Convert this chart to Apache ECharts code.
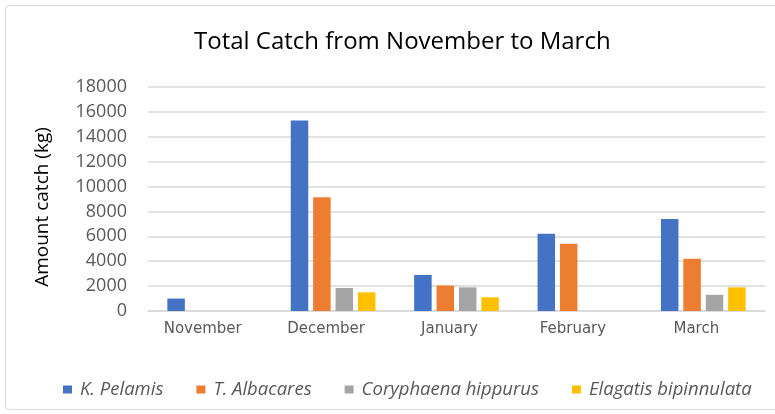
<!DOCTYPE html>
<html>
<head>
<meta charset="utf-8">
<script src="https://cdn.jsdelivr.net/npm/echarts@6/dist/echarts.min.js"></script>
<style>
  html, body { margin: 0; padding: 0; background: #fff; }
  #chart { width: 775px; height: 414px; }
</style>
</head>
<body>
<div id="chart"></div>
<script>
var months = ['November', 'December', 'January', 'February', 'March'];
var seriesNames = ['K. Pelamis', 'T. Albacares', 'Coryphaena hippurus', 'Elagatis bipinnulata'];
var kPelamis = [1000, 15300, 2900, 6200, 7400];
var tAlbacares = [0, 9150, 2050, 5400, 4200];
var coryphaena = [0, 1850, 1900, 0, 1300];
var elagatis = [0, 1500, 1100, 0, 1900];
var colors = ['#4472C4', '#ED7D31', '#A5A5A5', '#FFC000'];

(function () {
    var values = [kPelamis, tAlbacares, coryphaena, elagatis];
    var series = [];
    for (var i = 0; i < values.length; i++) {
        series.push({
            name: seriesNames[i],
            type: 'bar',
            data: values[i],
            barWidth: 17.5,
            barGap: '28%',
            itemStyle: { color: colors[i] }
        });
    }

    var option = {
        animation: false,
        backgroundColor: '#fff',
        color: colors,
        title: {
            text: 'Total Catch from November to March',
            left: 189,
            top: 25,
            textStyle: { fontFamily: 'Open Sans', fontWeight: 'normal', fontSize: 24, color: '#000' }
        },
        legend: {
            data: seriesNames,
            top: 375,
            left: 58,
            itemWidth: 9,
            itemHeight: 8,
            itemGap: 33,
            icon: 'rect',
            textStyle: { fontFamily: 'Open Sans', fontStyle: 'italic', fontSize: 18.5, color: '#595959', padding: [0, 0, 0, 3] }
        },
        grid: { left: 148, right: 10, top: 87, bottom: 103 },
        xAxis: {
            type: 'category',
            data: months,
            axisTick: { show: false },
            axisLine: { lineStyle: { color: '#d9d9d9', width: 1.5 } },
            axisLabel: { fontFamily: 'DejaVu Sans', fontSize: 15, color: '#595959', margin: 11, padding: [0, 14, 0, 0] }
        },
        yAxis: {
            type: 'value',
            min: 0,
            max: 18000,
            interval: 2000,
            name: 'Amount catch (kg)',
            nameLocation: 'middle',
            nameGap: 96,
            nameTextStyle: { fontFamily: 'Open Sans', fontSize: 19, color: '#000', padding: [0, 16, 0, 0] },
            axisLine: { show: false },
            axisTick: { show: false },
            splitLine: { lineStyle: { color: '#d9d9d9', width: 1.5 } },
            axisLabel: {
                fontFamily: 'Open Sans', fontSize: 18, color: '#595959', margin: 21,
                formatter: function (v) { return String(v); }
            }
        },
        graphic: [{
            type: 'rect',
            shape: { x: 5.5, y: 5.5, width: 780, height: 404, r: 4 },
            style: { fill: 'none', stroke: '#d9d9d9', lineWidth: 1 },
            silent: true
        }],
        series: series
    };

    var chart = echarts.init(document.getElementById('chart'));
    chart.setOption(option, true);
})();
</script>
</body>
</html>
